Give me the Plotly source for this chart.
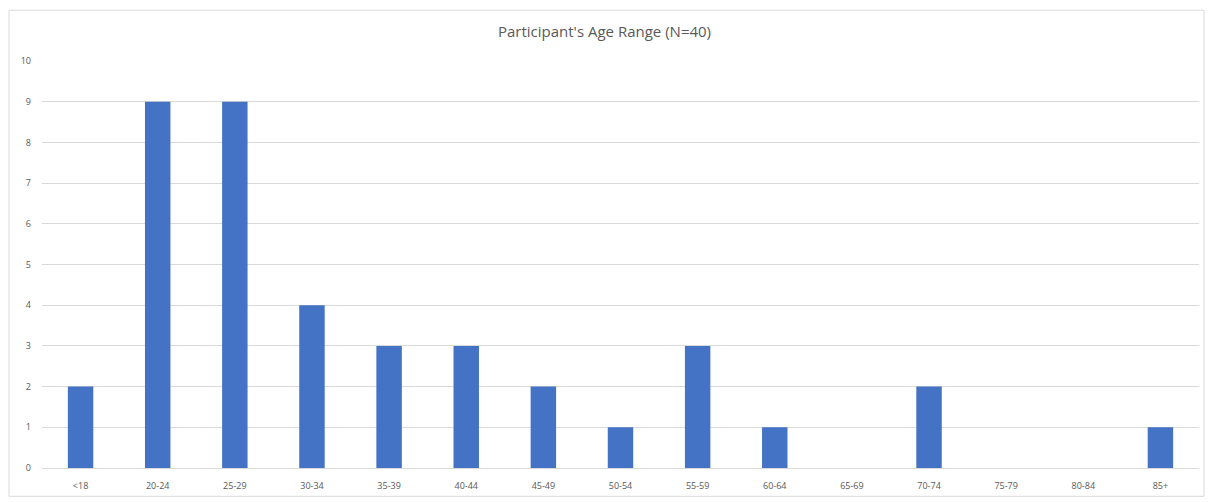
import plotly.graph_objects as go

# Participant counts per age bracket
age_ranges = ["<18", "20-24", "25-29", "30-34", "35-39", "40-44", "45-49", "50-54",
              "55-59", "60-64", "65-69", "70-74", "75-79", "80-84", "85+"]
counts = [2, 9, 9, 4, 3, 3, 2, 1, 3, 1, 0, 2, 0, 0, 1]
y_ticks = list(range(0, 11))

W, H = 1209, 502
ml, mr, mt, mb = 42, 10, 61, 24
pw, ph = W - ml - mr, H - mt - mb

fig = go.Figure(go.Bar(
    x=age_ranges, y=counts,
    marker=dict(color="#4472C4", line=dict(width=0)),
))

fig.update_layout(
    width=W, height=H,
    margin=dict(l=ml, r=mr, t=mt, b=mb),
    paper_bgcolor="white", plot_bgcolor="white",
    bargap=0.67,
    showlegend=False,
    title=dict(text="Participant's Age Range (N=40)", x=0.5, xanchor="center",
               y=1 - 32 / H, yanchor="middle",
               font=dict(family="Open Sans, Liberation Sans, sans-serif", size=15, color="#595959")),
    xaxis=dict(type="category", showgrid=False, showline=True, linecolor="#D9D9D9",
               linewidth=1, ticks="", tickfont=dict(family="Open Sans, sans-serif", size=9, color="#595959"),
               ticklabelstandoff=9, fixedrange=True),
    yaxis=dict(range=[0, 10], tickvals=y_ticks, showgrid=True, gridcolor="#D9D9D9",
               gridwidth=1, zeroline=False, showline=False, ticks="",
               tickfont=dict(family="Open Sans, sans-serif", size=9, color="#595959"),
               ticklabelstandoff=10, fixedrange=True),
    shapes=[dict(type="rect", xref="paper", yref="paper",
                 x0=(9 - ml) / pw, x1=(1204 - ml) / pw,
                 y0=-(mb + 5) / ph, y1=1 + (mt - 9) / ph,
                 line=dict(color="#D9D9D9", width=1), layer="below")],
)

fig.write_html("out.html")
